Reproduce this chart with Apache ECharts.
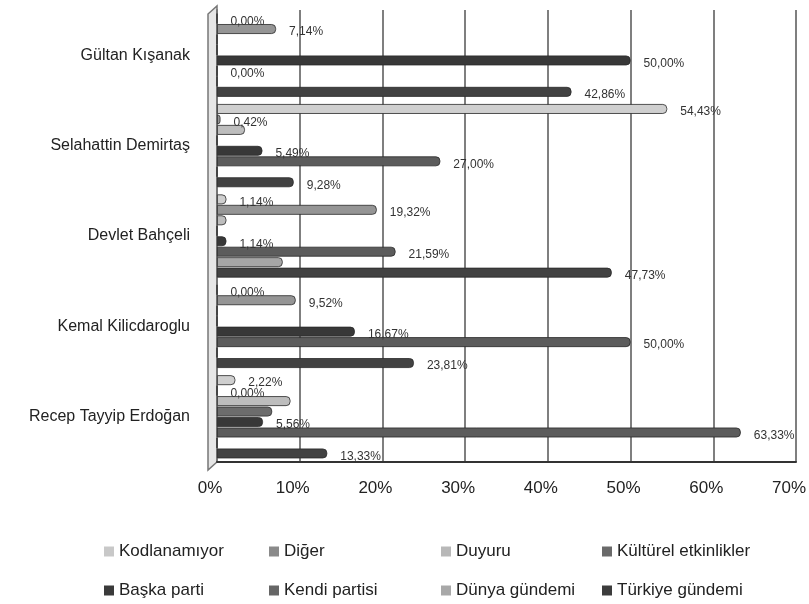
<!DOCTYPE html>
<html>
<head>
<meta charset="utf-8">
<script src="https://cdn.jsdelivr.net/npm/echarts@6/dist/echarts.min.js"></script>
<style>html,body{margin:0;padding:0;background:#fff;}#c{width:809px;height:604px;}</style>
</head>
<body>
<div id="c"></div>
<script>
const categories = ['Gültan Kışanak', 'Selahattin Demirtaş', 'Devlet Bahçeli', 'Kemal Kilicdaroglu', 'Recep Tayyip Erdoğan'];
const xTicks = [0, 10, 20, 30, 40, 50, 60, 70];
const seriesNames = ['Kodlanamıyor', 'Diğer', 'Duyuru', 'Kültürel etkinlikler', 'Başka parti', 'Kendi partisi', 'Dünya gündemi', 'Türkiye gündemi'];
const kodlanamiyor = [0, 54.43, 1.14, 0, 2.22];
const diger = [7.14, 0.42, 19.32, 9.52, 0];
const duyuru = [0, 3.38, 1.14, 0, 8.89];
const kulturelEtkinlikler = [0, 0, 0, 0, 6.67];
const baskaParti = [50, 5.49, 1.14, 16.67, 5.56];
const kendiPartisi = [0, 27, 21.59, 50, 63.33];
const dunyaGundemi = [0, 0, 7.95, 0, 0];
const turkiyeGundemi = [42.86, 9.28, 47.73, 23.81, 13.33];
const labelled = [true, true, false, false, true, true, false, true];

const allData = [kodlanamiyor, diger, duyuru, kulturelEtkinlikler, baskaParti, kendiPartisi, dunyaGundemi, turkiyeGundemi];
const colors = ['#cfcfcf', '#959595', '#bdbdbd', '#6c6c6c', '#383838', '#5c5c5c', '#a6a6a6', '#424242'];
const legendColors = ['#c8c8c8', '#8a8a8a', '#b8b8b8', '#6a6a6a', '#3a3a3a', '#666666', '#a8a8a8', '#3c3c3c'];
const FONT = 'Liberation Sans';

const chart = echarts.init(document.getElementById('c'), null, {renderer: 'canvas'});
const series = seriesNames.map((name, i) => ({
  name: name,
  type: 'bar',
  data: allData[i],
  barGap: '6%',
  barCategoryGap: '8%',
  itemStyle: {color: colors[i], borderColor: '#2a2a2a', borderWidth: 0.8, borderRadius: [0, 4, 4, 0]},
  label: {
    show: labelled[i],
    position: 'right',
    distance: 13,
    offset: [0, 3],
    fontFamily: FONT,
    fontSize: 12,
    color: '#333',
    formatter: p => p.value.toFixed(2).replace('.', ',') + '%'
  }
}));

const colLeft = [99, 264, 436, 597];
const rowTop = [538, 577];
const legends = seriesNames.map((name, i) => ({
  data: [{name: name, itemStyle: {color: legendColors[i], borderWidth: 0}}],
  left: colLeft[i % 4], top: rowTop[Math.floor(i / 4)],
  itemWidth: 10, itemHeight: 10, icon: 'rect',
  itemStyle: {borderWidth: 0},
  textStyle: {fontFamily: FONT, fontSize: 17, color: '#222'}
}));

chart.setOption({
  animation: false,
  color: colors,
  grid: {left: 217, right: 10, top: 10, bottom: 142, containLabel: false},
  legend: legends,
  xAxis: {
    type: 'value', min: xTicks[0], max: xTicks[xTicks.length - 1], interval: 10,
    axisLine: {show: true, lineStyle: {color: '#333', width: 2}},
    axisTick: {show: false},
    splitLine: {show: true, lineStyle: {color: '#7f7f7f', width: 2}},
    axisLabel: {formatter: '{value}%', fontFamily: FONT, fontSize: 17, color: '#222', margin: 18, padding: [0, 14, 0, 0]}
  },
  yAxis: {
    type: 'category', data: categories, inverse: true,
    axisLine: {show: true, lineStyle: {color: '#777', width: 2}},
    axisTick: {show: false},
    axisLabel: {fontFamily: FONT, fontSize: 16, color: '#222', margin: 27}
  },
  graphic: [{
    type: 'polygon', z: 0,
    shape: {points: [[208, 14], [217, 6], [217, 462], [208, 470]]},
    style: {fill: '#e6e6e6', stroke: '#777', lineWidth: 1.5}
  }],
  series: series
});
</script>
</body>
</html>
